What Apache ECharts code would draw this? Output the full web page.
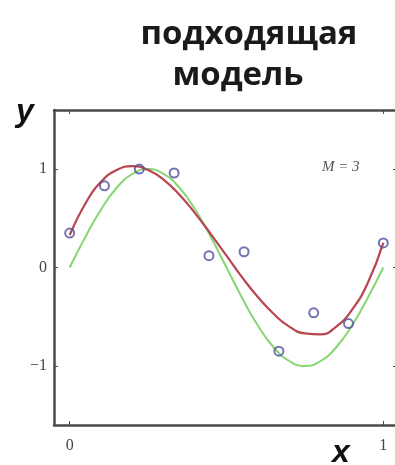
<!DOCTYPE html>
<html>
<head>
<meta charset="utf-8">
<script src="https://cdn.jsdelivr.net/npm/echarts@6/dist/echarts.min.js"></script>
<style>
  html, body { margin: 0; padding: 0; background: #fff; }
  #chart { width: 395px; height: 465px; }
</style>
</head>
<body>
<div id="chart"></div>
<script>
// Sample positions along x for the two curves
const curveX = [0, 0.05, 0.1, 0.15, 0.2, 0.25, 0.3, 0.35, 0.4, 0.45, 0.5,
                0.55, 0.6, 0.65, 0.7, 0.75, 0.8, 0.85, 0.9, 0.95, 1];
// True underlying function (green)
const trueCurve = [0, 0.31, 0.59, 0.81, 0.95, 1.0, 0.95, 0.81, 0.59, 0.31, 0,
                   -0.31, -0.59, -0.81, -0.95, -1.0, -0.95, -0.81, -0.59, -0.31, 0];
// Fitted cubic polynomial (red)
const fitCurve = [0.33, 0.65, 0.87, 0.99, 1.03, 0.99, 0.89, 0.74, 0.55, 0.34, 0.12,
                  -0.10, -0.30, -0.47, -0.60, -0.67, -0.68, -0.60, -0.43, -0.16, 0.25];
// Noisy observations (blue circles)
const obsX = [0, 0.111, 0.222, 0.333, 0.444, 0.556, 0.667, 0.778, 0.889, 1];
const obsY = [0.35, 0.83, 1.00, 0.96, 0.12, 0.16, -0.85, -0.46, -0.57, 0.25];
// Tick values
const xTicks = [0, 1];
const yTicks = [-1, 0, 1];

const pair = (xs, ys) => xs.map((x, i) => [x, ys[i]]);

const axisColor = '#4a4a4a';
const tickLabel = {
  fontFamily: '"Liberation Serif", "DejaVu Serif", serif',
  fontSize: 16,
  color: '#444'
};
const frameLine = { show: true, onZero: false, lineStyle: { color: axisColor, width: 2.5 } };

const chart = echarts.init(document.getElementById('chart'), null, { renderer: 'canvas' });

chart.setOption({
  backgroundColor: '#fff',
  animation: false,
  title: [
    {
      text: 'подходящая',
      left: 244, top: 13, textAlign: 'center',
      textStyle: { fontFamily: '"Open Sans", "Noto Sans", sans-serif', fontWeight: 'bold', fontSize: 33, color: '#1a1a1a' }
    },
    {
      text: 'модель',
      left: 233, top: 54, textAlign: 'center',
      textStyle: { fontFamily: '"Open Sans", "Noto Sans", sans-serif', fontWeight: 'bold', fontSize: 33, color: '#1a1a1a' }
    }
  ],
  grid: { left: 54, top: 110, width: 345, height: 315, containLabel: false, outerBoundsMode: 'none' },
  xAxis: [
    {
      type: 'value', position: 'bottom', min: -0.05, max: 1.05,
      axisLine: frameLine,
      axisTick: { show: true, inside: true, length: 4, customValues: xTicks, lineStyle: { color: axisColor } },
      axisLabel: Object.assign({ customValues: xTicks, margin: 13 }, tickLabel),
      splitLine: { show: false }
    },
    {
      type: 'value', position: 'top', min: -0.05, max: 1.05,
      axisLine: frameLine,
      axisTick: { show: true, inside: true, length: 4, customValues: xTicks, lineStyle: { color: axisColor } },
      axisLabel: { show: false },
      splitLine: { show: false }
    }
  ],
  yAxis: [
    {
      type: 'value', position: 'left', min: -1.6, max: 1.6,
      axisLine: frameLine,
      axisTick: { show: true, inside: true, length: 4, customValues: yTicks, lineStyle: { color: axisColor } },
      axisLabel: Object.assign({ customValues: yTicks, margin: 7, formatter: v => String(v).replace('-', '\u2212') }, tickLabel),
      splitLine: { show: false }
    },
    {
      type: 'value', position: 'right', min: -1.6, max: 1.6,
      axisLine: { show: false, onZero: false },
      axisTick: { show: true, inside: true, length: 6, customValues: yTicks, lineStyle: { color: axisColor } },
      axisLabel: { show: false },
      splitLine: { show: false }
    }
  ],
  graphic: [
    {
      type: 'text', left: 16, top: 96,
      style: { text: 'y', font: 'italic bold 32px "Liberation Sans", Arial, sans-serif', fill: '#111' }
    },
    {
      type: 'text', left: 332, top: 437,
      style: { text: 'x', font: 'italic bold 32px "Liberation Sans", Arial, sans-serif', fill: '#111' }
    },
    {
      type: 'text', left: 322, top: 160,
      style: { text: 'M = 3', font: 'italic 15px "Liberation Serif", "DejaVu Serif", serif', fill: '#555' }
    }
  ],
  series: [
    {
      name: 'true', type: 'line', data: pair(curveX, trueCurve), smooth: 0.5,
      showSymbol: false, lineStyle: { color: '#86d672', width: 2 }, z: 2
    },
    {
      name: 'fit', type: 'line', data: pair(curveX, fitCurve), smooth: 0.5,
      showSymbol: false, lineStyle: { color: '#b8454f', width: 2.2 }, z: 3
    },
    {
      name: 'obs', type: 'scatter', data: pair(obsX, obsY),
      symbol: 'circle', symbolSize: 9,
      itemStyle: { color: 'rgba(255,255,255,0)', borderColor: '#5050a0', borderWidth: 2 }, z: 4
    }
  ]
});
</script>
</body>
</html>
